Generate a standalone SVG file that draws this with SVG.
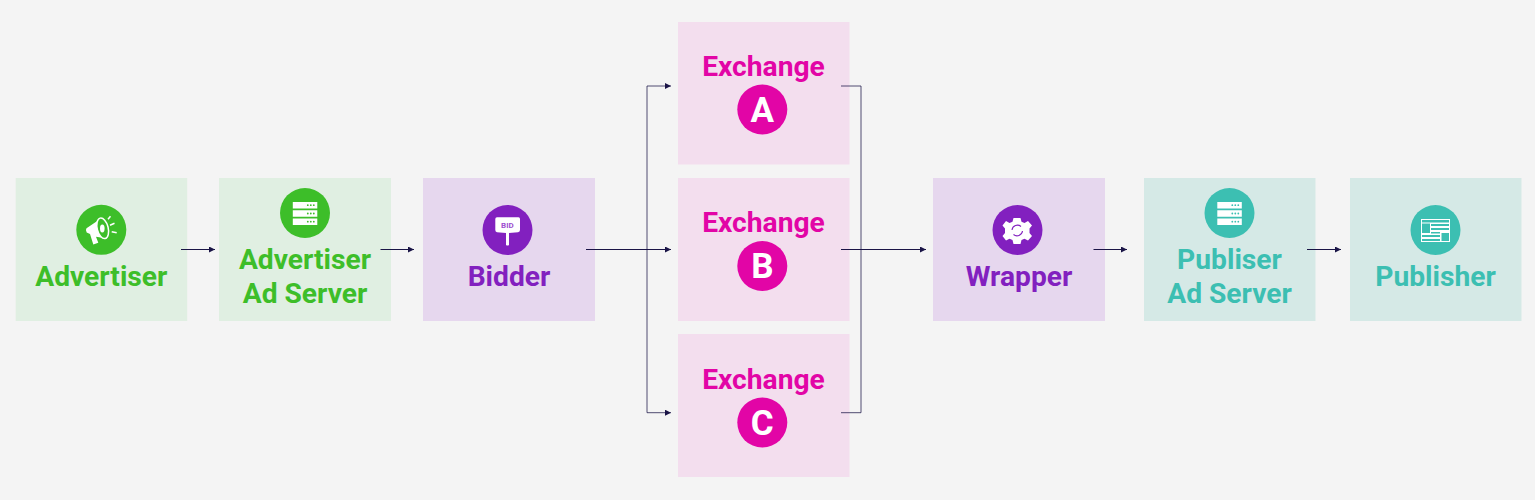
<svg xmlns="http://www.w3.org/2000/svg" width="1535" height="500" viewBox="0 0 1535 500">
<style>
text{font-family:Roboto,"Liberation Sans",sans-serif;font-weight:700;text-anchor:middle}
.t{font-size:28.200px}
.g{color:#3dbe29}.p{color:#8220bf}.m{color:#e205a6}.e{color:#3cbfb2}
.g .b{fill:#e0efe2}.p .b{fill:#e6d7ee}.m .b{fill:#f3deee}.e .b{fill:#d5e9e6}
.c{fill:currentColor}
.t{fill:currentColor}
.w{fill:#fff}
.ws{fill:none;stroke:#fff}
.l{fill:#fff;font-size:35px}
.k{fill:none;stroke:#1a1446;stroke-width:1}
.f{stroke-opacity:.75}
</style>
<defs>
<marker id="a" markerUnits="userSpaceOnUse" markerWidth="6" markerHeight="7" refX="6" refY="3" orient="auto"><path d="M0 0L6 3L0 6Z" fill="#1a1446"/></marker>
<g id="srv"><path class="w" d="M0 0H24.500V6.500H0ZM0 8.300H24.500V14.800H0ZM0 16.500H24.500V23H0Z"/>
<g fill="currentColor"><circle cx="15" cy="3.200" r=".9"/><circle cx="18" cy="3.200" r=".9"/><circle cx="21" cy="3.200" r=".9"/><circle cx="15" cy="11.500" r=".9"/><circle cx="18" cy="11.500" r=".9"/><circle cx="21" cy="11.500" r=".9"/><circle cx="15" cy="19.700" r=".9"/><circle cx="18" cy="19.700" r=".9"/><circle cx="21" cy="19.700" r=".9"/></g></g>
</defs>
<rect width="1535" height="500" fill="#f4f4f4"/>
<g id="advertiser" class="g"><rect class="b" x="15.700" y="178" width="171.500" height="143"/><circle class="c" cx="101.300" cy="229.800" r="25"/>
<path class="w" d="M99.500 219.500L86.500 228.300Q85 230.500 86.700 232.500L90 234L93.300 244.500L98.300 242.700L96 236.700L107 238.500Z"/>
<ellipse cx="102.700" cy="228.300" rx="5.500" ry="10.500" transform="rotate(-14 102.700 228.300)" fill="#3dbe29" stroke="#fff" stroke-width="1.500"/>
<ellipse class="w" cx="102.300" cy="228.500" rx="2.300" ry="4"/>
<path class="ws" stroke-width="1.500" d="M108 219.300L110.500 216.300M110 225.200L114.500 223.300M111.700 231.700L116.700 232.800"/>
<text class="t" x="101.300" y="286">Advertiser</text></g>
<g id="advertiser-ad-server" class="g"><rect class="b" x="219" y="178" width="172" height="143"/><circle class="c" cx="305" cy="213" r="25"/>
<use href="#srv" x="292.800" y="202"/>
<text class="t" x="305" y="269">Advertiser</text><text class="t" x="305" y="303">Ad Server</text></g>
<g id="bidder" class="p"><rect class="b" x="423" y="178" width="172" height="143"/><circle class="c" cx="507.500" cy="230" r="25"/>
<path class="w" d="M497 217.300H518.500Q520 217.300 520 219V230Q520 232 518 232.300L509 233V245Q507.500 246 506 245V233L497 232.300Q495.300 232 495.300 230V219Q495.300 217.300 497 217.300Z"/>
<text x="507.400" y="228.300" font-size="8" fill="#a050d0">BID</text>
<text class="t" x="509" y="286">Bidder</text></g>
<g id="exchange-a" class="m"><rect class="b" x="678" y="22" width="171.500" height="142.500"/><text class="t" x="763.500" y="76">Exchange</text><circle class="c" cx="762.300" cy="109.500" r="25"/><text class="l" x="762.300" y="121.700">A</text></g>
<g id="exchange-b" class="m"><rect class="b" x="678" y="178" width="171.500" height="143"/><text class="t" x="763.500" y="232">Exchange</text><circle class="c" cx="762.300" cy="266" r="25"/><text class="l" x="762.300" y="278">B</text></g>
<g id="exchange-c" class="m"><rect class="b" x="678" y="334" width="171.500" height="143"/><text class="t" x="763.500" y="389">Exchange</text><circle class="c" cx="762.300" cy="422.500" r="25"/><text class="l" x="762.300" y="434.500">C</text></g>
<g id="wrapper" class="p"><rect class="b" x="933" y="178" width="172" height="143"/><circle class="c" cx="1017.500" cy="230" r="25"/>
<path class="w" d="M1013.500 218H1020.500L1021.500 221.800L1024.500 223L1028 221L1032 225.500L1029.500 228.500V233L1032 236L1028 240.500L1024.500 238.800L1021.500 240L1020.500 244H1013.500L1012.500 240L1009.500 238.800L1006 240.500L1002.500 236L1005 233V228.500L1002.500 225.500L1006 221L1009.500 223L1012.500 221.800Z"/>
<path d="M1012 230a5.500 5.500 0 0 1 9-3.500M1022.500 231a5.500 5.500 0 0 1-9 3.500" fill="none" stroke="#8220bf" stroke-width="1.100"/>
<text class="t" x="1019" y="286">Wrapper</text></g>
<g id="publiser-ad-server" class="e"><rect class="b" x="1144" y="178" width="171.500" height="143"/><circle class="c" cx="1229.500" cy="213" r="25"/>
<use href="#srv" x="1217.300" y="202"/>
<text class="t" x="1229.500" y="269">Publiser</text><text class="t" x="1229.500" y="303">Ad Server</text></g>
<g id="publisher" class="e"><rect class="b" x="1350" y="178" width="171.500" height="143"/><circle class="c" cx="1435.500" cy="230" r="25"/>
<path class="w" d="M1421 219H1450V242H1421ZM1422 220V222.500H1449V220ZM1422 223.500V233H1430V223.500ZM1431 224V226H1449V224ZM1431 228V230H1449V228ZM1431 232V233.500H1440V232ZM1441.500 233V241H1449V233ZM1422 235V237H1440V235ZM1422 239V241H1440V239Z" fill-rule="evenodd"/>
<text class="t" x="1435.500" y="286">Publisher</text></g>
<g id="connectors">
<path class="k" marker-end="url(#a)" d="M181 249.500H215"/>
<path class="k" marker-end="url(#a)" d="M380.500 249.500H414"/>
<path class="k" marker-end="url(#a)" d="M586 249.500H671"/>
<path class="k f" marker-end="url(#a)" d="M647 249.500V86H671"/>
<path class="k f" marker-end="url(#a)" d="M647 249.500V412.700H671"/>
<path class="k f" d="M841 86H861V412.700H841"/>
<path class="k" marker-end="url(#a)" d="M841 249.500H926"/>
<path class="k" marker-end="url(#a)" d="M1093.500 249.500H1127"/>
<path class="k" marker-end="url(#a)" d="M1307 249.500H1341"/>
</g>
</svg>
